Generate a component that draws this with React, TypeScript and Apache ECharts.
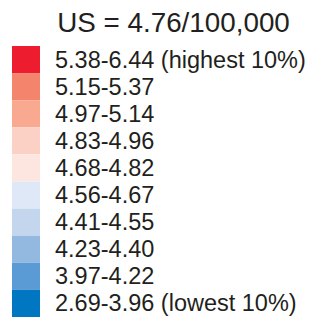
import React, { useEffect, useRef } from "react";
import * as echarts from "echarts";

const title = "US = 4.76/100,000";
const categories = [
  "5.38-6.44 (highest 10%)",
  "5.15-5.37",
  "4.97-5.14",
  "4.83-4.96",
  "4.68-4.82",
  "4.56-4.67",
  "4.41-4.55",
  "4.23-4.40",
  "3.97-4.22",
  "2.69-3.96 (lowest 10%)",
];
const colors = [
  "#ed1c2e",
  "#f4846c",
  "#f8a98f",
  "#fcd1c5",
  "#fde6e0",
  "#dfe8f6",
  "#c4d6ee",
  "#93b9e1",
  "#5a9bd5",
  "#0077c0",
];
const values = [1, 1, 1, 1, 1, 1, 1, 1, 1, 1];

const FONT = "'Liberation Sans', Arial, Helvetica, sans-serif";
const TEXT = "#231f20";

export default function App() {
  const ref = useRef<HTMLDivElement>(null);
  useEffect(() => {
    if (!ref.current) return;
    const chart = echarts.init(ref.current, undefined, { renderer: "svg" });
    chart.setOption({
      animation: false,
      backgroundColor: "#ffffff",
      graphic: [
        {
          type: "text",
          x: 173.5,
          y: 22,
          style: {
            text: title,
            fill: TEXT,
            font: `27.8px ${FONT}`,
            textAlign: "center",
            textVerticalAlign: "middle",
          },
        },
      ],
      grid: { left: 12, top: 46, width: 28, height: 271 },
      xAxis: {
        type: "value",
        min: 0,
        max: 1,
        show: false,
      },
      yAxis: {
        type: "category",
        data: categories,
        inverse: true,
        position: "right",
        axisLine: { show: false },
        axisTick: { show: false },
        splitLine: { show: false },
        axisLabel: {
          interval: 0,
          margin: 15,
          align: "left",
          color: TEXT,
          fontSize: 23.5,
          fontFamily: FONT,
        },
      },
      series: [
        {
          type: "bar",
          barWidth: "100%",
          barCategoryGap: 0,
          data: values.map((v, i) => ({ value: v, itemStyle: { color: colors[i] } })),
        },
      ],
    });
    return () => chart.dispose();
  }, []);
  return (
    <div
      ref={ref}
      style={{ position: "fixed", left: 0, top: 0, width: 310, height: 322 }}
    />
  );
}
